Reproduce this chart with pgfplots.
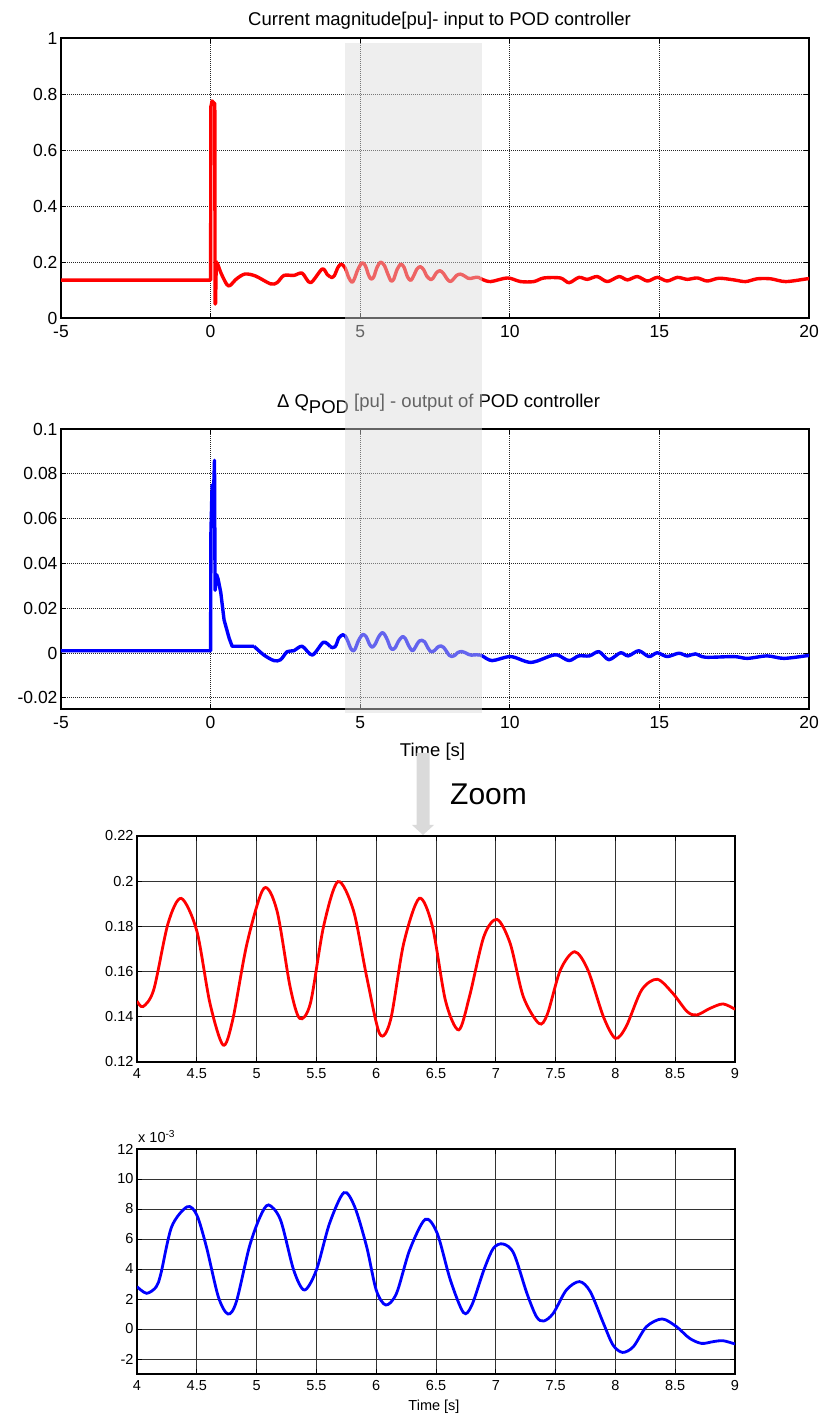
\documentclass[border=0pt]{standalone}
\usepackage{pgfplots}
\pgfplotsset{compat=1.18}
\usepackage{pgfplotstable}
\usepackage{fontspec}
\setmainfont{Liberation Sans}

\definecolor{shadegray}{RGB}{218,218,218}
\definecolor{arrowgray}{RGB}{218,218,218}

% ---------------- data ----------------
\pgfplotstableread{
x y
-5 0.135
0 0.135
0.01 0.755
0.05 0.775
0.14 0.765
0.15 0.05
0.165 0.05
0.19 0.2
0.22 0.198
}\redA
\pgfplotstableread{
x y
0.22 0.198
0.35 0.16
0.54 0.12
0.65 0.116
0.87 0.14
1.15 0.157
1.5 0.15
2.0 0.122
2.22 0.126
2.45 0.152
2.78 0.152
3.06 0.16
3.34 0.126
3.73 0.175
3.9 0.155
4.0 0.147
}\redB
\pgfplotstableread{
x y
4.00 0.147
4.05 0.1445
4.14 0.152
4.26 0.1814
4.37 0.1924
4.50 0.178
4.61 0.146
4.72 0.1275
4.80 0.1386
4.92 0.1725
5.06 0.1968
5.17 0.187
5.28 0.1533
5.36 0.1393
5.45 0.146
5.56 0.18
5.68 0.1998
5.81 0.187
5.92 0.1578
6.03 0.1324
6.12 0.1386
6.23 0.1725
6.36 0.1924
6.47 0.180
6.58 0.147
6.69 0.1342
6.78 0.149
6.90 0.1755
7.01 0.1831
7.12 0.1725
7.23 0.1489
7.36 0.1371
7.43 0.141
7.54 0.1607
7.66 0.1688
7.77 0.1607
7.90 0.14
8.00 0.1305
8.09 0.1357
8.22 0.1519
8.35 0.1566
8.48 0.1504
8.60 0.1423
8.68 0.1408
8.79 0.1437
8.90 0.1457
9.00 0.1433
}\redZ
\pgfplotstableread{
x y
9.0 0.1433
9.08 0.138
9.36 0.13
9.92 0.143
10.36 0.13
10.8 0.13
11.14 0.143
11.69 0.143
11.98 0.126
12.31 0.145
12.59 0.138
12.92 0.148
13.26 0.13
13.65 0.148
13.93 0.136
14.26 0.148
14.6 0.132
14.93 0.145
15.26 0.132
15.6 0.145
15.93 0.138
16.27 0.143
16.6 0.132
16.99 0.142
17.49 0.136
17.88 0.13
18.27 0.14
18.72 0.14
19.22 0.13
19.94 0.14
20 0.14
}\redC
\pgfplotstableread{
x y
-5 0.001
0 0.001
0.01 0.053
0.05 0.075
0.08 0.062
0.13 0.086
0.15 0.028
0.2 0.035
0.25 0.033
0.34 0.027
0.45 0.0148
0.62 0.0066
0.72 0.003
1.45 0.003
}\blueA
\pgfplotstableread{
x y
1.45 0.003
1.78 -0.0009
2.12 -0.0034
2.34 -0.003
2.56 0.0006
2.78 0.001
3.06 0.003
3.4 -0.0009
3.77 0.0048
4.0 0.00282
}\blueB
\pgfplotstableread{
x y
4.00 0.00282
4.08 0.00238
4.16 0.0028
4.20 0.0037
4.29 0.00682
4.42 0.00815
4.50 0.0076
4.58 0.00549
4.68 0.00215
4.76 0.0010
4.83 0.0018
4.94 0.00549
5.03 0.00749
5.10 0.00827
5.20 0.00727
5.31 0.00393
5.40 0.0026
5.50 0.00393
5.61 0.00704
5.73 0.00909
5.82 0.00815
5.92 0.00549
6.00 0.0026
6.08 0.0016
6.17 0.00238
6.28 0.00527
6.41 0.00731
6.51 0.00638
6.62 0.00327
6.73 0.00109
6.80 0.0016
6.90 0.00393
6.98 0.00538
7.06 0.00567
7.15 0.00504
7.26 0.00238
7.34 0.00082
7.40 0.00053
7.48 0.00104
7.59 0.0026
7.70 0.00316
7.79 0.00249
7.90 0.00038
7.98 -0.00107
8.06 -0.00156
8.15 -0.00118
8.26 0.00016
8.39 0.00067
8.51 0.00016
8.62 -0.00062
8.72 -0.00096
8.82 -0.00084
8.90 -0.00078
9.00 -0.0010
}\blueZ
\pgfplotstableread{
x y
9.0 -0.001
9.08 -0.0013
9.41 -0.0034
10.03 -0.0016
10.7 -0.0042
11.36 -0.0013
11.6 -0.0009
11.98 -0.0034
12.3 -0.0013
12.66 -0.0013
12.98 0.0006
13.31 -0.003
13.7 0.0001
13.96 -0.0013
14.31 0.001
14.65 -0.0016
14.93 0.0001
15.26 -0.0016
15.65 -0.0001
15.93 -0.0013
16.2 -0.0004
16.54 -0.0019
17.49 -0.0016
17.94 -0.0024
18.6 -0.0013
19.16 -0.0024
19.94 -0.0012
20 -0.0012
}\blueC

\pgfplotsset{
  matlab/.style={
    scale only axis, anchor=south west,
    axis line style={line width=1.1pt, black},
    tick align=inside, xtick pos=both, ytick pos=both,
    major tick length=5pt, tick style={line width=0.8pt, black},
    grid=major,
    scaled x ticks=false, scaled y ticks=false,
    /pgf/number format/assume math mode=true,
  },
  bigplot/.style={
    matlab, width=748pt, height=280pt,
    xmin=-5, xmax=20,
    xtick={-5,0,5,10,15,20}, xticklabels={-5,0,5,10,15,20},
    tick label style={font=\fontsize{17.5}{17.5}\selectfont},
    xticklabel style={yshift=-4pt},
    major grid style={dash pattern=on 1pt off 1pt, line width=0.8pt, black!85},
  },
  zoomplot/.style={
    matlab, width=598pt,
    xmin=4, xmax=9,
    xtick={4,4.5,5,5.5,6,6.5,7,7.5,8,8.5,9},
    xticklabels={4,4.5,5,5.5,6,6.5,7,7.5,8,8.5,9},
    tick label style={font=\fontsize{14.5}{14.5}\selectfont},
    xticklabel style={yshift=-2.5pt},
    major grid style={line width=0.7pt, black!80},
  },
}

\begin{document}
\begin{tikzpicture}
\path[use as bounding box] (0pt,0pt) rectangle (821pt,1417pt);

% ---- plot 1: current magnitude ----
\begin{axis}[bigplot, at={(61pt,1099pt)},
  ymin=0, ymax=1,
  ytick={0,0.2,0.4,0.6,0.8,1}, yticklabels={0,0.2,0.4,0.6,0.8,1}]
\addplot[red, line width=3.4pt, line join=round] table[x=x,y=y] {\redA};
\addplot[red, line width=3.4pt, smooth, line join=round] table[x=x,y=y] {\redB};
\addplot[red, line width=3.4pt, smooth, line join=round] table[x=x,y=y] {\redZ};
\addplot[red, line width=3.4pt, smooth, line join=round] table[x=x,y=y] {\redC};
\end{axis}
\node[anchor=base, font=\fontsize{18.5}{18.5}\selectfont] at (439.5pt,1391pt)
  {Current magnitude[pu]- input to POD controller};

% ---- plot 2: Delta Q_POD ----
\begin{axis}[bigplot, at={(61pt,708pt)},
  ymin=-0.025, ymax=0.1,
  ytick={-0.02,0,0.02,0.04,0.06,0.08,0.1},
  yticklabels={-0.02,0,0.02,0.04,0.06,0.08,0.1}]
\addplot[blue, line width=3.4pt, line join=round] table[x=x,y=y] {\blueA};
\addplot[blue, line width=3.4pt, smooth, line join=round] table[x=x,y=y] {\blueB};
\addplot[blue, line width=3.4pt, smooth, line join=round] table[x=x,y=y] {\blueZ};
\addplot[blue, line width=3.4pt, smooth, line join=round] table[x=x,y=y] {\blueC};
\end{axis}
\node[anchor=base, font=\fontsize{18.5}{18.5}\selectfont] at (438.5pt,1009pt)
  {Δ Q\raisebox{-6pt}{POD} [pu] - output of POD controller};
\node[anchor=base, font=\fontsize{18.5}{18.5}\selectfont] at (432.5pt,660pt) {Time [s]};

% ---- shaded overlay ----
\fill[fill=shadegray, opacity=0.46] (345pt,704pt) rectangle (482pt,1374pt);

% ---- arrow and Zoom ----
\fill[fill=arrowgray] (416.5pt,664pt) -- (429.5pt,664pt) -- (429.5pt,592pt) -- (434pt,592pt)
  -- (423pt,582pt) -- (412pt,592pt) -- (416.5pt,592pt) -- cycle;
\node[anchor=base west, inner sep=0pt, font=\fontsize{30}{30}\selectfont] at (450pt,612pt) {Zoom};

% ---- plot 3: zoom of current ----
\begin{axis}[zoomplot, at={(137pt,355pt)}, height=226pt,
  ymin=0.12, ymax=0.22,
  ytick={0.12,0.14,0.16,0.18,0.2,0.22},
  yticklabels={0.12,0.14,0.16,0.18,0.2,0.22}]
\addplot[red, line width=2.8pt, smooth] table[x=x,y=y] {\redZ};
\end{axis}

% ---- plot 4: zoom of Delta Q ----
\begin{axis}[zoomplot, at={(137pt,43pt)}, height=225pt,
  ymin=-0.003, ymax=0.012,
  ytick={-0.002,0,0.002,0.004,0.006,0.008,0.01,0.012},
  yticklabels={-2,0,2,4,6,8,10,12}]
\addplot[blue, line width=2.8pt, smooth] table[x=x,y=y] {\blueZ};
\end{axis}
\node[anchor=base west, inner sep=0pt, font=\fontsize{14.5}{14.5}\selectfont] at (138pt,274pt)
  {x 10\textsuperscript{-3}};
\node[anchor=base, font=\fontsize{14.5}{14.5}\selectfont] at (434pt,6pt) {Time [s]};
\end{tikzpicture}
\end{document}
